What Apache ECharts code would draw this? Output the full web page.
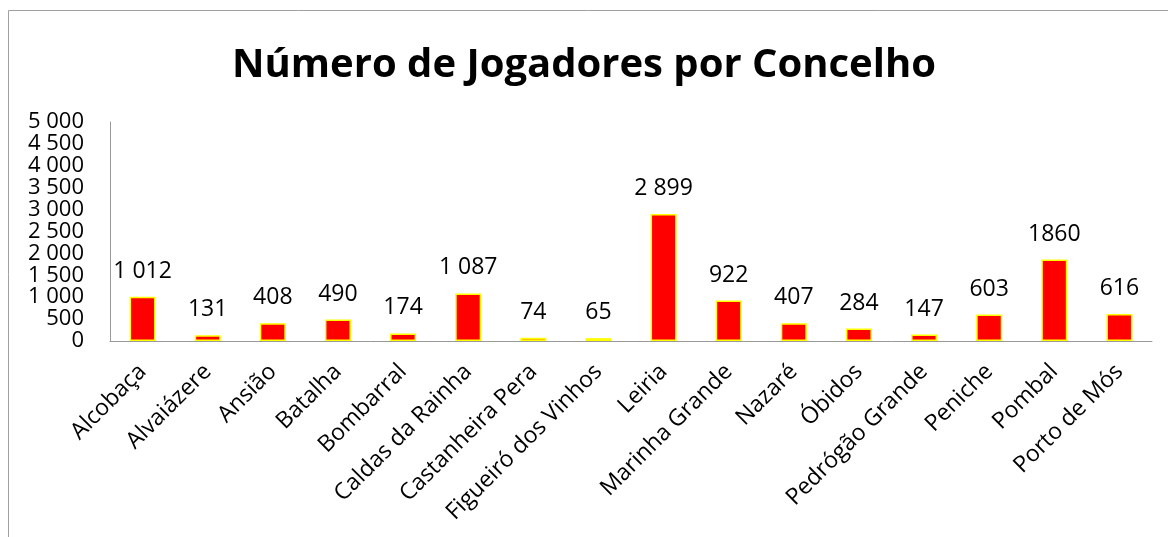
<!DOCTYPE html>
<html>
<head>
<meta charset="utf-8">
<script src="https://cdn.jsdelivr.net/npm/echarts@6/dist/echarts.min.js"></script>
<style>
  html, body { margin: 0; padding: 0; background: #fff; }
  #main { width: 1168px; height: 537px; }
</style>
</head>
<body>
<div id="main"></div>
<script>
var concelhos = ['Alcobaça', 'Alvaiázere', 'Ansião', 'Batalha', 'Bombarral', 'Caldas da Rainha',
  'Castanheira Pera', 'Figueiró dos Vinhos', 'Leiria', 'Marinha Grande', 'Nazaré', 'Óbidos',
  'Pedrógão Grande', 'Peniche', 'Pombal', 'Porto de Mós'];
var jogadores = [1012, 131, 408, 490, 174, 1087, 74, 65, 2899, 922, 407, 284, 147, 603, 1860, 616];
var rotulos = ['1 012', '131', '408', '490', '174', '1 087', '74', '65', '2 899', '922', '407', '284',
  '147', '603', '1860', '616'];

var chartDom = document.getElementById('main');
var myChart = echarts.init(chartDom);
var font = '"Open Sans", sans-serif';

var option = {
  animation: false,
  title: {
    text: 'Número de Jogadores por Concelho',
    left: 'center',
    top: 41,
    textStyle: { fontFamily: font, fontSize: 40, fontWeight: 'bold', color: '#000' }
  },
  graphic: [{
    type: 'rect',
    shape: { x: 8.5, y: 10.5, width: 1200, height: 600 },
    style: { fill: 'none', stroke: '#a0a0a0', lineWidth: 1 },
    silent: true
  }],
  grid: { left: 110, right: 16, top: 122, bottom: 196 },
  xAxis: {
    type: 'category',
    data: concelhos,
    axisLine: { lineStyle: { color: '#999' } },
    axisTick: { show: false },
    axisLabel: {
      interval: 0,
      rotate: 45,
      margin: 27,
      fontFamily: font,
      fontSize: 23,
      color: '#000'
    }
  },
  yAxis: {
    type: 'value',
    min: 0,
    max: 5000,
    interval: 500,
    splitLine: { show: false },
    axisLine: { show: true, lineStyle: { color: '#999' } },
    axisTick: { show: false },
    axisLabel: {
      margin: 26,
      fontFamily: font,
      fontSize: 22,
      lineHeight: 22,
      color: '#000',
      formatter: function (v) {
        return String(v).replace(/\B(?=(\d{3})+(?!\d))/g, ' ');
      }
    }
  },
  series: [{
    type: 'bar',
    data: jogadores,
    barWidth: 26,
    itemStyle: { color: '#ff0000', borderColor: '#ffff00', borderWidth: 1.5 },
    label: {
      show: true,
      position: 'top',
      distance: 14,
      fontFamily: font,
      fontSize: 23,
      color: '#000',
      formatter: function (p) { return rotulos[p.dataIndex]; }
    }
  }]
};

myChart.setOption(option);
</script>
</body>
</html>
